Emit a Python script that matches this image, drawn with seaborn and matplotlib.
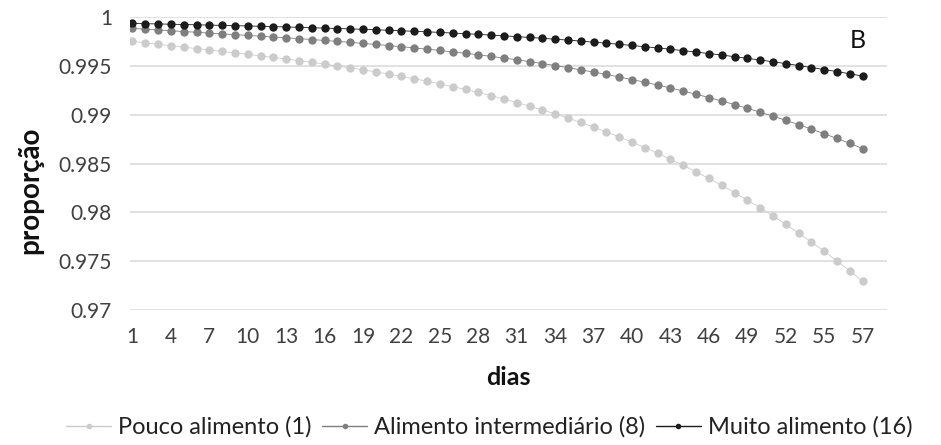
import pandas as pd
import matplotlib
matplotlib.use("Agg")
import matplotlib.pyplot as plt
from matplotlib.lines import Line2D
import seaborn as sns

# 58 daily categories on the x axis; every third one carries a label
categoria = list(range(58))
xtick_pos = list(range(0, 58, 3))
xtick_labels = ["1", "4", "7", "10", "13", "16", "19", "22", "25", "28",
                "31", "34", "37", "40", "43", "46", "49", "52", "55", "57"]
series_names = ["Pouco alimento (1)", "Alimento intermediário (8)", "Muito alimento (16)"]

pouco = [0.99755, 0.99740, 0.99725, 0.99711, 0.99696, 0.99681, 0.99667, 0.99652, 0.99637, 0.99622,
         0.99606, 0.99590, 0.99574, 0.99557, 0.99540, 0.99522, 0.99503, 0.99483, 0.99463, 0.99442,
         0.99420, 0.99396, 0.99372, 0.99346, 0.99319, 0.99291, 0.99262, 0.99231, 0.99198, 0.99164,
         0.99128, 0.99091, 0.99052, 0.99011, 0.98968, 0.98923, 0.98876, 0.98826, 0.98775, 0.98721,
         0.98666, 0.98607, 0.98546, 0.98483, 0.98417, 0.98349, 0.98278, 0.98204, 0.98127, 0.98047,
         0.97964, 0.97878, 0.97789, 0.97697, 0.97602, 0.97503, 0.97401, 0.97295]

intermediario = [0.99888, 0.99880, 0.99872, 0.99864, 0.99856, 0.99848, 0.99840, 0.99832, 0.99824, 0.99816,
                 0.99808, 0.99800, 0.99792, 0.99783, 0.99774, 0.99764, 0.99755, 0.99745, 0.99734, 0.99724,
                 0.99712, 0.99700, 0.99688, 0.99675, 0.99662, 0.99647, 0.99633, 0.99617, 0.99601, 0.99584,
                 0.99566, 0.99547, 0.99528, 0.99507, 0.99486, 0.99463, 0.99440, 0.99416, 0.99390, 0.99363,
                 0.99336, 0.99307, 0.99277, 0.99245, 0.99213, 0.99179, 0.99143, 0.99107, 0.99069, 0.99029,
                 0.98988, 0.98945, 0.98901, 0.98856, 0.98808, 0.98759, 0.98709, 0.98656]

muito = [0.99939, 0.99936, 0.99934, 0.99931, 0.99928, 0.99925, 0.99922, 0.99919, 0.99916, 0.99913,
         0.99910, 0.99906, 0.99903, 0.99899, 0.99895, 0.99891, 0.99887, 0.99883, 0.99879, 0.99874,
         0.99869, 0.99864, 0.99858, 0.99853, 0.99847, 0.99840, 0.99834, 0.99827, 0.99819, 0.99812,
         0.99804, 0.99795, 0.99787, 0.99777, 0.99768, 0.99758, 0.99747, 0.99736, 0.99725, 0.99713,
         0.99700, 0.99688, 0.99674, 0.99660, 0.99645, 0.99630, 0.99615, 0.99598, 0.99581, 0.99564,
         0.99546, 0.99527, 0.99507, 0.99487, 0.99466, 0.99445, 0.99422, 0.99399]

colors = ["#cbcbcb", "#7f7f7f", "#1c1c1c"]

df = pd.DataFrame({
    "dias": categoria * 3,
    "proporção": pouco + intermediario + muito,
    "série": [n for n in series_names for _ in categoria],
})

sns.set_theme(style="white")
plt.rcParams["font.family"] = ["Lato", "DejaVu Sans"]

fig = plt.figure(figsize=(9.41, 4.45), dpi=100)
ax = fig.add_axes([0.1381, 0.3034, 0.8045, 0.6573])

sns.lineplot(data=df, x="dias", y="proporção", hue="série", hue_order=series_names,
             palette=colors, marker="o", markersize=6, markeredgewidth=0,
             linewidth=0.6, legend=False, ax=ax)

ax.set_xlim(-0.195, 58.9)
ax.set_ylim(0.97, 1.0)
ax.set_yticks([0.97, 0.975, 0.98, 0.985, 0.99, 0.995, 1.0])
ax.set_yticklabels(["0.97", "0.975", "0.98", "0.985", "0.99", "0.995", "1"])
ax.set_xticks(xtick_pos)
ax.set_xticklabels(xtick_labels)
ax.tick_params(axis="both", length=0, labelsize=15, colors="#404040")
ax.tick_params(axis="y", pad=13)
ax.tick_params(axis="x", pad=12)

ax.grid(axis="y", color="#d9d9d9", linewidth=1.1)
ax.grid(axis="x", visible=False)
for s in ax.spines.values():
    s.set_visible(False)
ax.set_axisbelow(True)

ax.set_xlabel("dias", fontsize=18, fontweight="bold", color="#111111")
ax.set_ylabel("proporção", fontsize=20, fontweight="bold", color="#111111")
ax.xaxis.set_label_coords(0.5, -0.19)
ax.yaxis.set_label_coords(-0.114, 0.41)

ax.text(56.6, 0.99769, "B", fontsize=18, ha="center", va="center", color="#111111")

handles = [Line2D([0], [0], color=c, marker="o", markersize=4, markeredgewidth=0, linewidth=1)
           for c in colors]
fig.legend(handles, series_names, loc="center", bbox_to_anchor=(0.52, 0.0404), ncol=3,
           frameon=False, fontsize=17, handlelength=1.9, handletextpad=0.3,
           columnspacing=0.45, labelcolor="#222222")

fig.savefig("out.png", dpi=100)
